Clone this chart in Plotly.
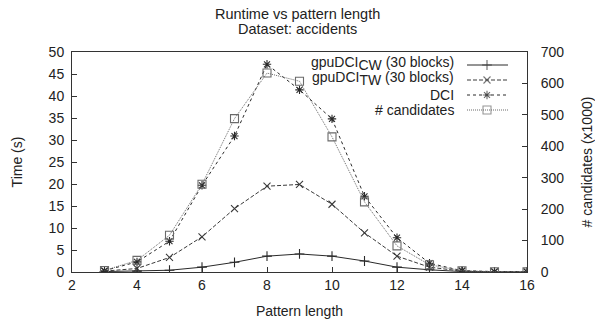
import plotly.graph_objects as go

pattern_length = [3, 4, 5, 6, 7, 8, 9, 10, 11, 12, 13, 14, 15, 16]
gpu_cw = [0.1, 0.2, 0.4, 1.1, 2.2, 3.6, 4.1, 3.6, 2.5, 1.1, 0.5, 0.1, 0.05, 0.02]
gpu_tw = [0.2, 0.8, 3.3, 8.0, 14.4, 19.5, 19.9, 15.4, 8.9, 3.6, 1.1, 0.2, 0.05, 0.02]
dci = [0.3, 2.3, 7.0, 19.7, 30.9, 47.2, 41.4, 34.8, 17.2, 7.8, 2.0, 0.3, 0.1, 0.05]
candidates = [5, 37, 117, 279, 488, 633, 607, 430, 223, 83, 23, 4, 1, 0.5]

names = ["gpuDCI<sub><span style='font-size:14px'>CW</span></sub> (30 blocks)",
         "gpuDCI<sub><span style='font-size:14px'>TW</span></sub> (30 blocks)",
         "DCI", "# candidates"]
symbols = ["cross-thin-open", "x-thin-open", "asterisk-open", "square-open"]
dashes = ["solid", "4px,2px", "3px,3px", "1px,1px"]
colors = ["#2a2a2a", "#3a3a3a", "#2a2a2a", "#6a6a6a"]

FONT = "Liberation Sans, Arial, sans-serif"
fig = go.Figure()

series = [gpu_cw, gpu_tw, dci, candidates]
for i, ys in enumerate(series):
    fig.add_trace(go.Scatter(
        x=pattern_length, y=ys, mode="lines+markers", name=names[i],
        yaxis="y2" if i == 3 else "y",
        line=dict(color=colors[i], width=1, dash=dashes[i]),
        marker=dict(symbol=symbols[i], size=7 if i != 3 else 8,
                    color=colors[i], line=dict(color=colors[i], width=1.1)),
        showlegend=False,
    ))

# custom gnuplot-style legend (text right-aligned, sample to the right)
L, R, T, B = 72, 527, 52, 272
rows_y = [63, 78, 95, 110]
for i in range(4):
    fig.add_trace(go.Scatter(
        x=[467, 487, 508], y=[rows_y[i] + (2 if i < 2 else 0)] * 3, xaxis="x3", yaxis="y3",
        mode="lines+markers", showlegend=False, hoverinfo="skip",
        line=dict(color=colors[i], width=1, dash=dashes[i]),
        marker=dict(symbol=symbols[i], size=[0, 7, 0] if i != 3 else [0, 8, 0],
                    color=colors[i], line=dict(color=colors[i], width=1.1)),
    ))
    fig.add_annotation(x=456, y=rows_y[i], xref="x3", yref="y3", text=names[i],
                       showarrow=False, xanchor="right", yanchor="middle",
                       font=dict(family=FONT, size=14, color="#222"))

for txt, py in [("Runtime vs pattern length", 14), ("Dataset: accidents", 29)]:
    fig.add_annotation(x=(297 - L) / (R - L), y=(B - py) / (B - T), xref="paper", yref="paper",
                       text=txt, showarrow=False, xanchor="center", yanchor="middle",
                       font=dict(family=FONT, size=14.5, color="#222"))

axis_common = dict(showline=True, linecolor="#333", linewidth=1, ticks="inside",
                   ticklen=5, tickcolor="#333", showgrid=False, zeroline=False,
                   automargin=False,
                   tickfont=dict(family=FONT, size=14, color="#222"))

fig.update_layout(
    width=595, height=327,
    margin=dict(l=L, r=595 - R, t=T, b=327 - B, autoexpand=False),
    paper_bgcolor="white", plot_bgcolor="white",
    xaxis=dict(range=[2, 16], dtick=2, mirror=True,
               title=dict(text="Pattern length", font=dict(family=FONT, size=14, color="#222"), standoff=14),
               **axis_common),
    yaxis=dict(range=[0, 50], dtick=5, mirror=False, ticklabelstandoff=4,
               title=dict(text="Time (s)", font=dict(family=FONT, size=14, color="#222"), standoff=22),
               **axis_common),
    yaxis2=dict(range=[0, 700], dtick=100, overlaying="y", side="right", ticklabelstandoff=10,
                title=dict(text="# candidates (x1000)", font=dict(family=FONT, size=14, color="#222"), standoff=22),
                **axis_common),
    xaxis3=dict(range=[L, R], visible=False, overlaying="x", anchor="y3"),
    yaxis3=dict(range=[B, T], visible=False, overlaying="y", anchor="x3"),
)

fig.write_html("out.html")
